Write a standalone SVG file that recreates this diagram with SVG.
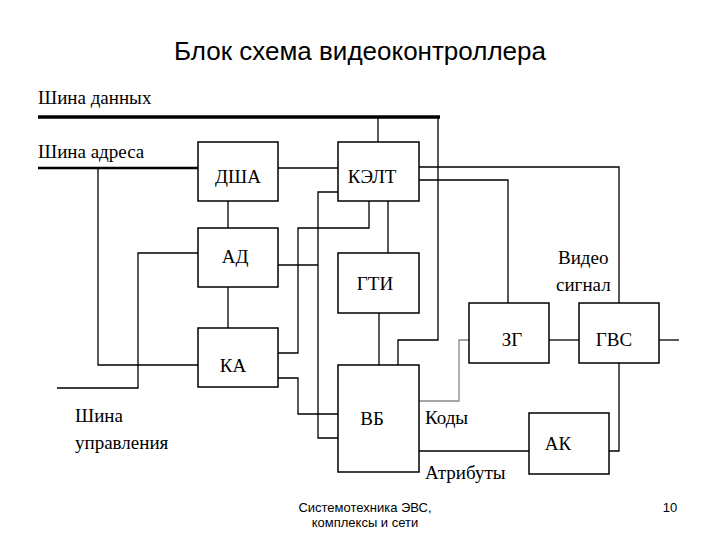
<svg xmlns="http://www.w3.org/2000/svg" width="720" height="540" viewBox="0 0 720 540">
<style>
.b{fill:#fff;stroke:#000;stroke-width:1.5}
.l{fill:none;stroke:#000;stroke-width:1.3}
.t{font-family:"Liberation Serif",serif;font-size:19px;fill:#000}
.c{text-anchor:middle}
.s{font-family:"Liberation Sans",sans-serif;fill:#000}
</style>
<rect width="720" height="540" fill="#fff"/>
<text class="s" x="360" y="60" font-size="26" text-anchor="middle">Блок схема видеоконтроллера</text>
<text class="t" x="38" y="104">Шина данных</text>
<text class="t" x="38" y="158">Шина адреса</text>
<text class="t" x="75" y="422">Шина</text>
<text class="t" x="75" y="449">управления</text>
<text class="t" x="558" y="264">Видео</text>
<text class="t" x="556" y="291">сигнал</text>
<text class="t" x="425" y="424">Коды</text>
<text class="t" x="425" y="479">Атрибуты</text>
<g id="connectors">
<line x1="38" y1="117" x2="440" y2="117" stroke="#000" stroke-width="3.5"/>
<line class="l" x1="38" y1="168" x2="198" y2="168" style="stroke-width:2.5"/>
<polyline class="l" points="438,117 438,340 398,340 398,365"/>
<line class="l" x1="378" y1="117" x2="378" y2="142"/>
<line class="l" x1="278" y1="168" x2="338" y2="168"/>
<polyline class="l" points="98,168 98,365 198,365"/>
<line class="l" x1="228" y1="201" x2="228" y2="228"/>
<line class="l" x1="228" y1="287" x2="228" y2="328"/>
<polyline class="l" points="198,253 138,253 138,388 57,388"/>
<line class="l" x1="278" y1="265" x2="318" y2="265"/>
<polyline class="l" points="338,192 318,192 318,438 338,438"/>
<polyline class="l" points="278,353 298,353 298,228 369,228 369,201"/>
<polyline class="l" points="278,378 298,378 298,414 338,414"/>
<line class="l" x1="388" y1="201" x2="388" y2="253"/>
<line class="l" x1="379" y1="313" x2="379" y2="365"/>
<polyline class="l" points="419,167 619,167 619,303"/>
<polyline class="l" points="419,180 508,180 508,303"/>
<line class="l" x1="549" y1="340" x2="579" y2="340"/>
<line class="l" x1="659" y1="340" x2="679" y2="340"/>
<polyline class="l" points="419,401 459,401 459,340 469,340" style="stroke:#888"/>
<line class="l" x1="419" y1="451" x2="529" y2="451"/>
<polyline class="l" points="609,451 619,451 619,363"/>
</g>
<g id="dsha"><rect class="b" x="198" y="142" width="80" height="59"/><text class="t c" x="238" y="183">ДША</text></g>
<g id="kelt"><rect class="b" x="338" y="142" width="81" height="59"/><text class="t c" x="372" y="183">КЭЛТ</text></g>
<g id="ad"><rect class="b" x="198" y="228" width="80" height="59"/><text class="t c" x="235" y="263">АД</text></g>
<g id="gti"><rect class="b" x="338" y="253" width="81" height="60"/><text class="t c" x="375" y="290">ГТИ</text></g>
<g id="ka"><rect class="b" x="198" y="328" width="80" height="59"/><text class="t c" x="233" y="372">КА</text></g>
<g id="vb"><rect class="b" x="338" y="365" width="81" height="107"/><text class="t c" x="372" y="425">ВБ</text></g>
<g id="zg"><rect class="b" x="469" y="303" width="80" height="60"/><text class="t c" x="512" y="346">ЗГ</text></g>
<g id="gvs"><rect class="b" x="579" y="303" width="80" height="60"/><text class="t c" x="614" y="346">ГВС</text></g>
<g id="ak"><rect class="b" x="529" y="413" width="80" height="61"/><text class="t c" x="558" y="450">АК</text></g>
<text class="s" x="365" y="512" font-size="13" text-anchor="middle">Системотехника ЭВС,</text>
<text class="s" x="365" y="527" font-size="13" text-anchor="middle">комплексы и сети</text>
<text class="s" x="670" y="512" font-size="13" text-anchor="middle">10</text>
</svg>
